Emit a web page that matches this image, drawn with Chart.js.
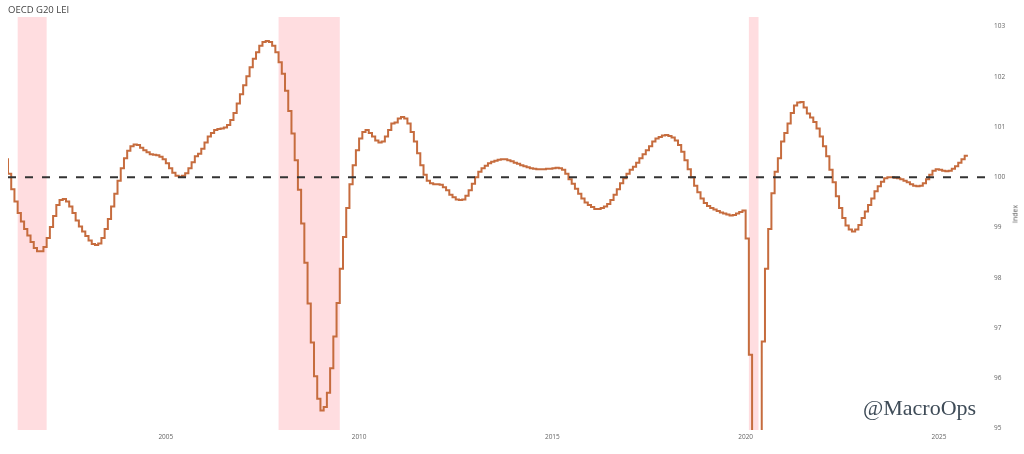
<!DOCTYPE html>
<html><head><meta charset="utf-8">
<script src="https://cdn.jsdelivr.net/npm/chart.js@4.4.1/dist/chart.umd.min.js"></script>
<style>
html,body{margin:0;padding:0;background:#fff;}
#wrap{position:relative;width:1024px;height:454px;overflow:hidden;}
#title{position:absolute;left:8px;top:5px;font-family:"Open Sans";font-size:9.5px;color:#444;line-height:1;white-space:nowrap;}
#ytitle{position:absolute;left:1015px;top:214px;font-family:"Open Sans";font-size:7px;color:#555;transform:translate(-50%,-50%) rotate(-90deg);white-space:nowrap;line-height:1;}
#mark{position:absolute;left:863px;top:397px;font-family:"Liberation Serif";font-size:22px;color:#3e4b57;line-height:1;white-space:nowrap;}
</style></head><body>
<div id="wrap"><canvas id="c" width="1024" height="454"></canvas>
<div id="title">OECD G20 LEI</div><div id="ytitle">Index</div><div id="mark">@MacroOps</div></div>
<script>
// Monthly OECD G20 LEI values (2000 starts in December)
const lei2000 = [100.38];
const lei2001 = [100.07, 99.76, 99.52, 99.29, 99.12, 98.97, 98.84, 98.71, 98.59, 98.53, 98.53, 98.61];
const lei2002 = [98.79, 99.01, 99.23, 99.45, 99.55, 99.57, 99.52, 99.42, 99.29, 99.14, 99.02, 98.92];
const lei2003 = [98.83, 98.74, 98.67, 98.65, 98.68, 98.79, 98.97, 99.17, 99.42, 99.67, 99.93, 100.18];
const lei2004 = [100.38, 100.53, 100.62, 100.65, 100.64, 100.59, 100.54, 100.50, 100.46, 100.45, 100.44, 100.41];
const lei2005 = [100.36, 100.28, 100.18, 100.09, 100.03, 100.01, 100.03, 100.08, 100.18, 100.30, 100.42, 100.47];
const lei2006 = [100.57, 100.69, 100.81, 100.88, 100.94, 100.96, 100.97, 100.99, 101.04, 101.14, 101.28, 101.47];
const lei2007 = [101.65, 101.83, 102.01, 102.19, 102.36, 102.49, 102.62, 102.69, 102.71, 102.69, 102.62, 102.49];
const lei2008 = [102.29, 102.06, 101.72, 101.32, 100.87, 100.34, 99.75, 99.08, 98.30, 97.49, 96.71, 96.04];
const lei2009 = [95.59, 95.36, 95.43, 95.71, 96.20, 96.83, 97.50, 98.18, 98.81, 99.39, 99.86, 100.24];
const lei2010 = [100.54, 100.77, 100.90, 100.94, 100.88, 100.81, 100.73, 100.69, 100.71, 100.81, 100.94, 101.07];
const lei2011 = [101.09, 101.17, 101.20, 101.17, 101.07, 100.90, 100.71, 100.48, 100.24, 100.05, 99.93, 99.88];
const lei2012 = [99.86, 99.86, 99.85, 99.80, 99.74, 99.65, 99.60, 99.56, 99.55, 99.56, 99.63, 99.74];
const lei2013 = [99.87, 100.00, 100.11, 100.18, 100.23, 100.28, 100.31, 100.33, 100.35, 100.36, 100.36, 100.34];
const lei2014 = [100.32, 100.29, 100.27, 100.24, 100.22, 100.20, 100.18, 100.17, 100.16, 100.16, 100.16, 100.17];
const lei2015 = [100.17, 100.18, 100.19, 100.18, 100.15, 100.07, 99.96, 99.87, 99.77, 99.67, 99.58, 99.50];
const lei2016 = [99.45, 99.41, 99.37, 99.37, 99.39, 99.42, 99.47, 99.55, 99.65, 99.76, 99.88, 99.98];
const lei2017 = [100.07, 100.15, 100.21, 100.29, 100.38, 100.46, 100.54, 100.62, 100.71, 100.77, 100.80, 100.83];
const lei2018 = [100.84, 100.82, 100.79, 100.73, 100.64, 100.51, 100.34, 100.16, 100.00, 99.83, 99.70, 99.58];
const lei2019 = [99.49, 99.43, 99.39, 99.36, 99.33, 99.30, 99.28, 99.26, 99.24, 99.25, 99.28, 99.31];
const lei2020 = [99.34, 98.78, 96.47, 93.3, 93.8, 94.6, 96.73, 98.18, 98.97, 99.68, 100.11, 100.38];
const lei2021 = [100.71, 100.88, 101.07, 101.28, 101.43, 101.49, 101.50, 101.39, 101.27, 101.19, 101.10, 100.97];
const lei2022 = [100.81, 100.62, 100.42, 100.15, 99.90, 99.62, 99.39, 99.19, 99.04, 98.96, 98.92, 98.96];
const lei2023 = [99.05, 99.19, 99.32, 99.45, 99.58, 99.72, 99.82, 99.91, 99.98, 100.00, 100.00, 99.99];
const lei2024 = [99.98, 99.96, 99.93, 99.90, 99.86, 99.83, 99.82, 99.83, 99.88, 99.96, 100.05, 100.13];
const lei2025 = [100.16, 100.15, 100.13, 100.12, 100.13, 100.17, 100.22, 100.29, 100.36, 100.43];

// [year, first month, values]
const seriesByYear = [
  [2000, 12, lei2000], [2001, 1, lei2001], [2002, 1, lei2002], [2003, 1, lei2003], [2004, 1, lei2004],
  [2005, 1, lei2005], [2006, 1, lei2006], [2007, 1, lei2007], [2008, 1, lei2008], [2009, 1, lei2009],
  [2010, 1, lei2010], [2011, 1, lei2011], [2012, 1, lei2012], [2013, 1, lei2013], [2014, 1, lei2014],
  [2015, 1, lei2015], [2016, 1, lei2016], [2017, 1, lei2017], [2018, 1, lei2018], [2019, 1, lei2019],
  [2020, 1, lei2020], [2021, 1, lei2021], [2022, 1, lei2022], [2023, 1, lei2023], [2024, 1, lei2024],
  [2025, 1, lei2025]
];

const xTicks = [2005, 2010, 2015, 2020, 2025];
const yTicks = [95, 96, 97, 98, 99, 100, 101, 102, 103];
const baseline = 100;
// Recessions as [start year, start month] / [end year, end month (exclusive)]
const recessionStarts = [[2001, 3], [2007, 12], [2020, 2]];
const recessionEnds = [[2001, 12], [2009, 7], [2020, 5]];
const xMin = 2000 + 11 / 12;
const xMax = 2026.27;
const yMin = 94.97, yMax = 103.19;

const ym = (y, m) => y + (m - 1) / 12;
const points = [];
seriesByYear.forEach(([y, m0, arr]) => arr.forEach((v, i) => points.push({ x: ym(y, m0 + i), y: v })));

const recessionPlugin = {
  id: 'recessions',
  beforeDatasetsDraw(chart) {
    const { ctx, chartArea: a, scales: { x } } = chart;
    ctx.save();
    ctx.fillStyle = 'rgb(255,221,224)';
    recessionStarts.forEach((s, i) => {
      const x0 = x.getPixelForValue(ym(s[0], s[1]));
      const x1 = x.getPixelForValue(ym(recessionEnds[i][0], recessionEnds[i][1]));
      ctx.fillRect(x0, a.top, x1 - x0, a.bottom - a.top);
    });
    ctx.restore();
  }
};

const tickFont = { family: 'Open Sans', size: 6.5 };
new Chart(document.getElementById('c'), {
  type: 'line',
  data: {
    datasets: [
      { label: 'G20 LEI', data: points, borderColor: '#c66c3e', borderWidth: 2, pointRadius: 0,
        stepped: 'after', tension: 0, fill: false, order: 1 },
      { label: 'Baseline', data: [{ x: xMin, y: baseline }, { x: xMax, y: baseline }], borderColor: '#333',
        borderWidth: 2, borderDash: [8, 9], pointRadius: 0, fill: false, order: 0 }
    ]
  },
  options: {
    responsive: false,
    animation: false,
    layout: { padding: { left: 8, top: 17, right: 0, bottom: 0 } },
    plugins: { legend: { display: false }, tooltip: { enabled: false } },
    scales: {
      x: {
        type: 'linear', min: xMin, max: xMax,
        grid: { display: false, drawTicks: false }, border: { display: false },
        ticks: { font: tickFont, color: '#666', padding: 3, autoSkip: false, maxRotation: 0, callback: v => String(v) },
        afterBuildTicks: s => { s.ticks = xTicks.map(v => ({ value: v })); },
        afterFit: s => { s.height = 24; }
      },
      y: {
        position: 'right', min: yMin, max: yMax,
        grid: { display: false, drawTicks: false }, border: { display: false },
        ticks: { font: tickFont, color: '#666', padding: 6, autoSkip: false, callback: v => String(v) },
        afterBuildTicks: s => { s.ticks = yTicks.map(v => ({ value: v })); },
        afterFit: s => { s.width = 36; }
      }
    }
  },
  plugins: [recessionPlugin]
});
</script>
</body></html>
